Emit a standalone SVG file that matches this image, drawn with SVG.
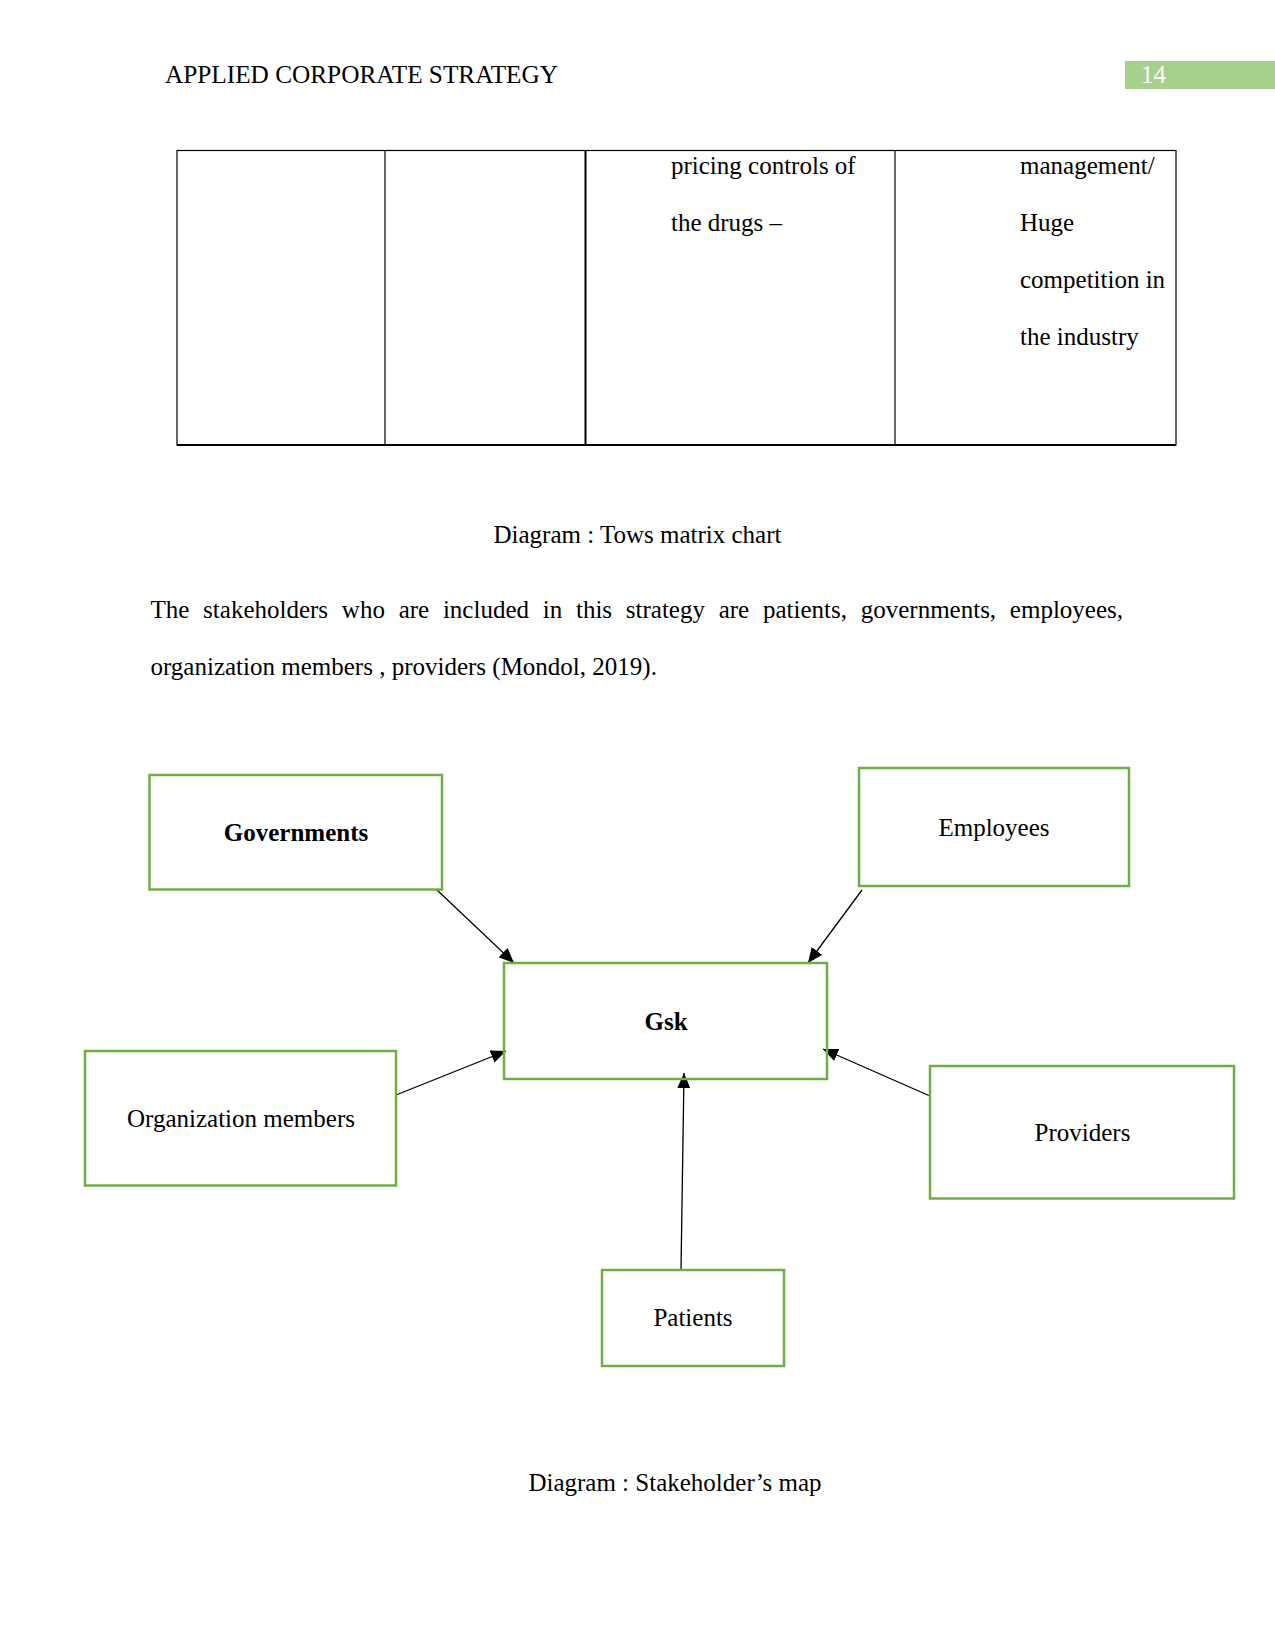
<svg xmlns="http://www.w3.org/2000/svg" width="1275" height="1651" viewBox="0 0 1275 1651">
<style>
text{font-family:"Liberation Serif","Times New Roman",serif;font-size:25px;fill:#000}
.b{font-weight:bold}
.node{fill:#fff;stroke:#70AD47;stroke-width:2.5}
.tl{stroke:#000;stroke-width:1.2;fill:none}
.conn line{stroke:#000;stroke-width:1.3;marker-end:url(#ah)}
</style>
<defs>
<marker id="ah" markerUnits="userSpaceOnUse" markerWidth="15" markerHeight="13" viewBox="0 0 15 13" refX="15" refY="6.5" orient="auto">
<path d="M0,0 L15,6.5 L0,13 z" fill="#000"/>
</marker>
</defs>
<rect width="1275" height="1651" fill="#fff"/>
<g id="header">
<text x="165" y="83" textLength="393" lengthAdjust="spacingAndGlyphs">APPLIED CORPORATE STRATEGY</text>
<rect x="1125" y="61" width="150" height="28" fill="#A8D08D"/>
<text x="1141" y="83" style="fill:#fff">14</text>
</g>
<g id="table">
<rect class="tl" x="177" y="150.5" width="999" height="294.5"/>
<line class="tl" x1="385" y1="150.5" x2="385" y2="445"/>
<line class="tl" x1="585.5" y1="150.5" x2="585.5" y2="445" style="stroke-width:2"/>
<line class="tl" x1="895" y1="150.5" x2="895" y2="445"/>
<line class="tl" x1="177" y1="445" x2="1176" y2="445" style="stroke-width:2"/>
<text x="671" y="174">pricing controls of</text>
<text x="671" y="231">the drugs –</text>
<text x="1020" y="174">management/</text>
<text x="1020" y="231">Huge</text>
<text x="1020" y="288">competition in</text>
<text x="1020" y="345">the industry</text>
</g>
<text x="637.5" y="543" text-anchor="middle">Diagram : Tows matrix chart</text>
<text x="150.5" y="618" word-spacing="7.5">The stakeholders who are included in this strategy are patients, governments, employees,</text>
<text x="150.5" y="675">organization members , providers (Mondol, 2019).</text>
<g class="conn" id="connectors">
<line x1="437" y1="890" x2="514" y2="963"/>
<line x1="862" y1="890" x2="808" y2="963"/>
<line x1="396" y1="1095" x2="506" y2="1051"/>
<line x1="930" y1="1096" x2="823" y2="1049"/>
<line x1="681" y1="1270" x2="684" y2="1073"/>
</g>
<g id="governments">
<rect class="node" x="149.5" y="775" width="292.5" height="114.5"/>
<text class="b" x="296" y="841" text-anchor="middle">Governments</text>
</g>
<g id="employees">
<rect class="node" x="859" y="768" width="270" height="118"/>
<text x="994" y="836" text-anchor="middle">Employees</text>
</g>
<g id="gsk">
<rect class="node" x="504" y="963" width="323" height="116" style="fill:none"/>
<text class="b" x="666" y="1030" text-anchor="middle">Gsk</text>
</g>
<g id="organization-members">
<rect class="node" x="85" y="1051" width="311" height="134.5"/>
<text x="241" y="1127" text-anchor="middle">Organization members</text>
</g>
<g id="providers">
<rect class="node" x="930" y="1066" width="304" height="132.5"/>
<text x="1082.5" y="1141" text-anchor="middle">Providers</text>
</g>
<g id="patients">
<rect class="node" x="602" y="1270" width="182" height="96"/>
<text x="693" y="1326" text-anchor="middle">Patients</text>
</g>
<text x="675" y="1491" text-anchor="middle">Diagram : Stakeholder’s map</text>
</svg>
